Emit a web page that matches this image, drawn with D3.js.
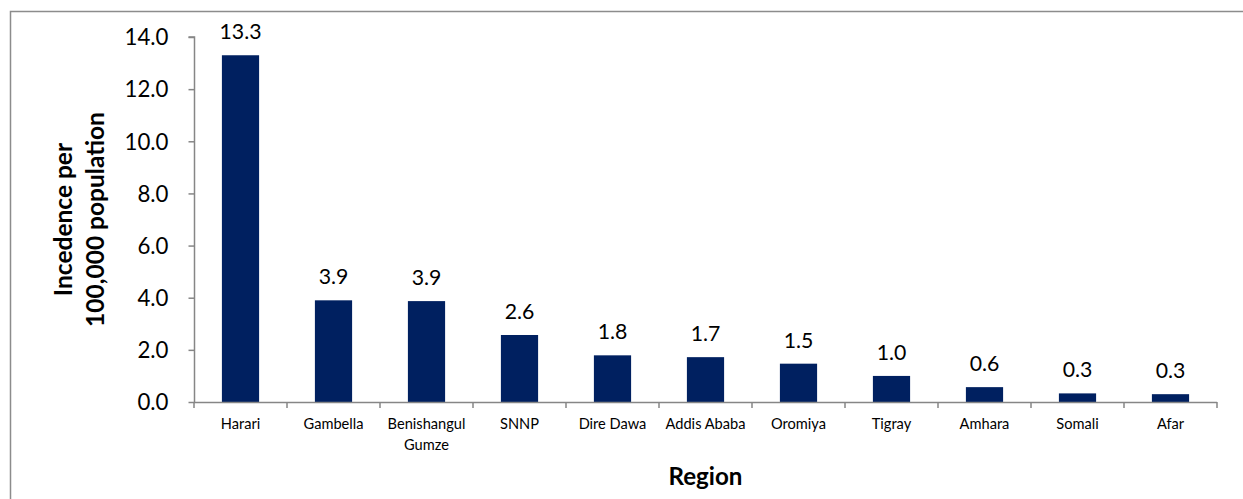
<!DOCTYPE html>
<html>
<head>
<meta charset="utf-8">
<script src="https://cdn.jsdelivr.net/npm/d3@7"></script>
<style>
  html, body { margin: 0; padding: 0; background: #fff; }
  svg { display: block; font-family: Lato, "Open Sans", sans-serif; }
</style>
</head>
<body>
<svg id="chart" width="1243" height="499"></svg>
<script>
// Incidence per 100,000 population by region
const regions = ["Harari", "Gambella", "Benishangul Gumze", "SNNP", "Dire Dawa",
  "Addis Ababa", "Oromiya", "Tigray", "Amhara", "Somali", "Afar"];
const incidence = [13.3, 3.9, 3.87, 2.57, 1.79, 1.72, 1.47, 1.0, 0.57, 0.33, 0.3];
const yTicks = [0, 2, 4, 6, 8, 10, 12, 14];

const svg = d3.select("#chart");
const margin = { left: 194, right: 26, top: 37, bottom: 97 };
const W = 1243, H = 499;
const x0 = margin.left, x1 = W - margin.right;
const y0 = H - margin.bottom, y1 = margin.top;
const axisColor = "#868686";
const barColor = "#002060";

// pick a font size so that a sample string spans the wanted width
function fitSize(sample, weight, width) {
  const t = svg.append("text").attr("font-size", 100).attr("font-weight", weight).text(sample);
  const w = t.node().getComputedTextLength();
  t.remove();
  return 100 * width / w;
}
const tickSize = fitSize("14.0", "normal", 44);
const valueSize = fitSize("13.3", "normal", 42);
const catSize = fitSize("Gambella", "normal", 60);
const xTitleSize = fitSize("Region", "bold", 74);
const yTitleSize = fitSize("100,000 population", "bold", 215);

// outer frame (runs off the right and bottom edges)
svg.append("rect")
  .attr("x", 10.5).attr("y", 11.5)
  .attr("width", 1400).attr("height", 700)
  .attr("fill", "none").attr("stroke", "#8c8c8c").attr("stroke-width", 1.5);

const x = d3.scaleBand().domain(regions).range([x0, x1]).paddingInner(0.6).paddingOuter(0.3);
const y = d3.scaleLinear().domain([0, 14]).range([y0, y1]);

// bars
svg.append("g").selectAll("rect")
  .data(regions)
  .join("rect")
  .attr("x", d => x(d))
  .attr("width", x.bandwidth())
  .attr("y", (d, i) => y(incidence[i]))
  .attr("height", (d, i) => y(0) - y(incidence[i]))
  .attr("fill", barColor);

// value labels
svg.append("g").selectAll("text")
  .data(regions)
  .join("text")
  .attr("x", d => x(d) + x.bandwidth() / 2)
  .attr("y", (d, i) => y(incidence[i]) - 16)
  .attr("text-anchor", "middle")
  .attr("font-size", valueSize)
  .attr("fill", "#000")
  .text((d, i) => d3.format(".1f")(incidence[i]));

// y axis
const yAxis = d3.axisLeft(y).tickValues(yTicks).tickFormat(d3.format(".1f"))
  .tickSize(6).tickPadding(20);
const gy = svg.append("g").attr("transform", `translate(${x0 + 0.5},0)`).call(yAxis);
gy.select(".domain").attr("stroke", axisColor).attr("stroke-width", 1.5).attr("d", `M-6,${y1}H0V${y0}`);
gy.selectAll(".tick line").attr("stroke", axisColor).attr("stroke-width", 1.5);
gy.selectAll(".tick text").attr("font-size", tickSize).attr("fill", "#000")
  .attr("font-family", "Lato, 'Open Sans', sans-serif").attr("dy", "0.35em");

// x axis: line with tick marks between categories
const gx = svg.append("g");
gx.append("line")
  .attr("x1", x0).attr("x2", x1)
  .attr("y1", y0 + 0.5).attr("y2", y0 + 0.5)
  .attr("stroke", axisColor).attr("stroke-width", 1.5);
const bounds = d3.range(regions.length + 1).map(i => x0 + i * (x1 - x0) / regions.length);
gx.selectAll("line.tk")
  .data(bounds)
  .join("line")
  .attr("class", "tk")
  .attr("x1", d => d).attr("x2", d => d)
  .attr("y1", y0).attr("y2", y0 + 6)
  .attr("stroke", axisColor).attr("stroke-width", 1.5);

// category labels (two lines where needed)
const catLines = {"Benishangul Gumze": ["Benishangul", "Gumze"]};
const labels = gx.selectAll("text.cat")
  .data(regions)
  .join("text")
  .attr("class", "cat")
  .attr("text-anchor", "middle")
  .attr("font-size", catSize)
  .attr("fill", "#000")
  .attr("y", y0 + 27);
labels.each(function(d) {
  const lines = catLines[d] || [d];
  const t = d3.select(this);
  lines.forEach((s, k) => {
    t.append("tspan")
      .attr("x", x(d) + x.bandwidth() / 2)
      .attr("dy", k === 0 ? 0 : 21)
      .text(s);
  });
});

// axis titles
svg.append("text")
  .attr("x", (x0 + x1) / 2).attr("y", y0 + 83)
  .attr("text-anchor", "middle")
  .attr("font-size", xTitleSize).attr("font-weight", "bold")
  .text("Region");

const yt = svg.append("text")
  .attr("transform", `translate(72,${(y0 + y1) / 2}) rotate(-90)`)
  .attr("text-anchor", "middle")
  .attr("font-size", yTitleSize).attr("font-weight", "bold");
yt.append("tspan").attr("x", 0).attr("dy", 0).text("Incedence per");
yt.append("tspan").attr("x", 0).attr("dy", 32).text("100,000 population");
</script>
</body>
</html>
